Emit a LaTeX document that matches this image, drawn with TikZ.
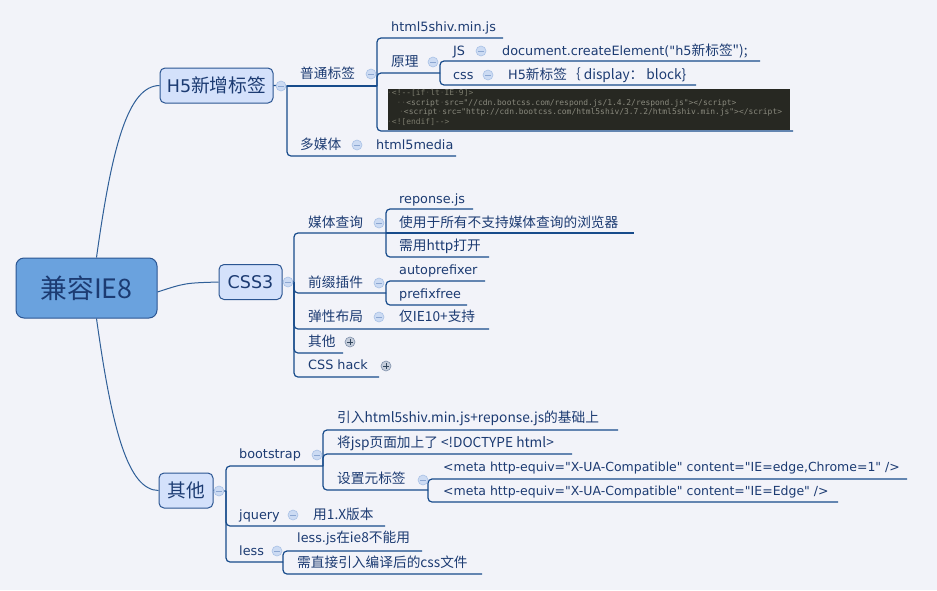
\documentclass[tikz,border=0pt]{standalone}
\usepackage{fontspec}
\setmainfont[Ligatures=TeXOff]{DejaVu Sans}
\newfontfamily\cjk[Scale=1.07,Ligatures=TeXOff]{Noto Sans CJK SC}
\newfontfamily\codefont[Ligatures=TeXOff]{DejaVu Sans Mono}
\definecolor{bg}{HTML}{F2F3F9}
\definecolor{txt}{HTML}{1C3B72}
\definecolor{lnc}{HTML}{174B8B}
\definecolor{rootc}{HTML}{2F5F98}
\definecolor{rootfill}{HTML}{6AA2DE}
\definecolor{boxfill}{HTML}{D4E1FB}
\definecolor{boxline}{HTML}{2B5592}
\definecolor{minfill}{HTML}{CCDBF3}
\definecolor{minline}{HTML}{A9C1E6}
\definecolor{minsign}{HTML}{8CA7D2}
\definecolor{plusfill}{HTML}{C5CDDB}
\definecolor{plusline}{HTML}{7F90AB}
\definecolor{plussign}{HTML}{33475F}
\definecolor{codebg}{HTML}{272822}
\definecolor{codea}{HTML}{7A7A6C}
\definecolor{codeb}{HTML}{8A8A7E}
\definecolor{codedot}{HTML}{4E4E44}
\newcommand\wsdot{{\color{codedot}·}}
\tikzset{
  lbl/.style={anchor=base west, inner sep=0pt, text=txt, font=\fontsize{12.8}{15}\selectfont},
  metalbl/.style={lbl, font=\fontsize{12.5}{15}\selectfont},
  ln/.style={draw=lnc, line width=1.2pt, rounded corners=4pt},
  rootln/.style={draw=rootc, line width=1pt},
  topicbox/.style={draw=boxline, fill=boxfill, line width=1pt, rounded corners=5pt, text=txt, inner sep=0pt, font=\fontsize{17.5}{20}\selectfont},
  mc/.style={circle, minimum size=10pt, inner sep=0pt, fill=minfill, draw=minline, line width=0.6pt,
    path picture={\draw[minsign, line width=1pt] ([xshift=-2.6pt]path picture bounding box.center) -- ([xshift=2.6pt]path picture bounding box.center);}},
  pc/.style={circle, minimum size=10pt, inner sep=0pt, fill=plusfill, draw=plusline, line width=0.6pt,
    path picture={\draw[plussign, line width=0.9pt] ([xshift=-2.6pt]path picture bounding box.center) -- ([xshift=2.6pt]path picture bounding box.center) ([yshift=-2.6pt]path picture bounding box.center) -- ([yshift=2.6pt]path picture bounding box.center);}},
  codeln/.style={anchor=base west, inner sep=0pt, font=\codefont\fontsize{7.95}{9}\selectfont}
}
\begin{document}
\begin{tikzpicture}[x=1pt,y=-1pt]
\fill[bg] (0,0) rectangle (937,590);
\useasboundingbox (0,0) rectangle (937,590);

% ---------- main topics ----------
\node[draw=boxline, fill=rootfill, line width=1pt, rounded corners=8pt, minimum width=141pt, minimum height=60pt, inner sep=0pt, text=txt, font=\fontsize{25}{28}\selectfont] (root) at (86.5,288) {\cjk{兼容}IE8};
\node[topicbox, minimum width=113pt, minimum height=35pt] (h5) at (216.5,85.5) {H5\cjk{新增标签}};
\node[topicbox, minimum width=63pt, minimum height=35pt] (css3) at (250.5,282) {CSS3};
\node[topicbox, minimum width=54pt, minimum height=35pt] (qt) at (186,490.5) {\cjk{其他}};

% root connectors
\draw[rootln] ([xshift=10pt]root.north) .. controls (112,146) and (128,86) .. (h5.west);
\draw[rootln] ([xshift=10pt]root.south) .. controls (112,430) and (128,490) .. (qt.west);
\draw[rootln] ([yshift=-4pt]root.east) .. controls (185,283) .. (css3.west);

% ---------- H5 branch ----------
\coordinate (jA) at (287,86);
\coordinate (jB) at (377,86);
\coordinate (eMM) at (456,156);
\coordinate (eH5s) at (503,38);
\coordinate (jC) at (440,73);
\coordinate (eCode) at (793,131);
\coordinate (eJS) at (760,61);
\coordinate (eCSS) at (696,85);
\draw[ln] (h5.east) -- (jA);
\draw[ln] (jA) -- (jB);
\draw[ln] (jA) |- (eMM);
\draw[ln] (jB) |- (eH5s);
\draw[ln] (jB) |- (jC);
\draw[ln] (jB) |- (eCode);
\draw[ln] (jC) |- (eJS);
\draw[ln] (jC) |- (eCSS);

\node[lbl] (tPT) at (300,78.5) {\cjk{普通标签}};
\node[lbl] (tMM) at (300,149.5) {\cjk{多媒体}};
\node[lbl] (tH5m) at (376,149.5) {html5media};
\node[lbl] (tH5s) at (391,31.5) {html5shiv.min.js};
\node[lbl] (tYL) at (391,66.5) {\cjk{原理}};
\node[lbl] (tJS) at (453,55.5) {JS};
\node[lbl] (tDoc) at (502,55.5) {document.createElement("h5\cjk{新标签}");};
\node[lbl] (tCss) at (453,79.5) {css};
\node[lbl] (tBlk) at (508,79.5) {H5\cjk{新标签｛} display\cjk{：} block\}};

\node[fill=codebg, minimum width=402pt, minimum height=41pt, inner sep=0pt, anchor=north west] (code) at (388,89) {};
\node[codeln, text=codea] (cl1) at (387,95) {\wsdot<!-{}-[if\wsdot lt\wsdot IE\wsdot 9]>};
\node[codeln, text=codeb] (cl2) at (396.5,105) {\wsdot\wsdot<script\wsdot src="//cdn.bootcss.com/respond.js/1.4.2/respond.js"></script>};
\node[codeln, text=codeb] (cl3) at (399,114.5) {\wsdot<script\wsdot src="http://cdn.bootcss.com/html5shiv/3.7.2/html5shiv.min.js"></script>};
\node[codeln, text=codea] (cl4) at (387,124) {\wsdot<![endif]-{}->};

\node[mc] (mH5) at (281,86) {};
\node[mc] (mPT) at (371,74) {};
\node[mc] (mYL) at (433,62) {};
\node[mc] (mJS) at (481,51) {};
\node[mc] (mCss) at (488,75) {};
\node[mc] (mMM) at (357,145) {};

% ---------- CSS3 branch ----------
\coordinate (jD) at (294,282);
\coordinate (jE) at (386,233);
\coordinate (jF) at (386,293);
\coordinate (eTX) at (489,329);
\coordinate (eQT) at (343,353);
\coordinate (eHack) at (379,377);
\coordinate (eRes) at (473,209);
\coordinate (eUse) at (634,233);
\coordinate (eHttp) at (489,257);
\coordinate (eAuto) at (485,281);
\coordinate (ePre) at (467,305);
\draw[ln] (css3.east) -- (jD);
\draw[ln] (jD) |- (jE);
\draw[ln] (jD) |- (jF);
\draw[ln] (jD) |- (eTX);
\draw[ln] (jD) |- (eQT);
\draw[ln] (jD) |- (eHack);
\draw[ln] (jE) |- (eRes);
\draw[ln] (jE) -- (eUse);
\draw[ln] (jE) |- (eHttp);
\draw[ln] (jF) |- (eAuto);
\draw[ln] (jF) |- (ePre);

\node[lbl] (tMQ) at (308,227.5) {\cjk{媒体查询}};
\node[lbl] (tRes) at (399,203.5) {reponse.js};
\node[lbl] (tUse) at (399,227.5) {\cjk{使用于所有不支持媒体查询的浏览器}};
\node[lbl] (tHttp) at (399,250.5) {\cjk{需用}http\cjk{打开}};
\node[lbl] (tQZ) at (308,287.5) {\cjk{前缀插件}};
\node[lbl] (tAuto) at (399,274.5) {autoprefixer};
\node[lbl] (tPre) at (399,298.5) {prefixfree};
\node[lbl] (tTX) at (308,321.5) {\cjk{弹性布局}};
\node[lbl] (tIE10) at (399,321.5) {\cjk{仅}IE10+\cjk{支持}};
\node[lbl] (tQT2) at (308,346.5) {\cjk{其他}};
\node[lbl] (tHack) at (308,369.5) {CSS hack};

\node[mc] (mCSS3) at (288,282) {};
\node[mc] (mMQ) at (379,223) {};
\node[mc] (mQZ) at (379,283) {};
\node[mc] (mTX) at (379,317) {};
\node[pc] (pQT) at (350,342) {};
\node[pc] (pHack) at (386,366) {};

% ---------- 其他 branch ----------
\coordinate (jG) at (226,491);
\coordinate (jH) at (323,466);
\coordinate (eJQ) at (385,526);
\coordinate (jI) at (283,562);
\coordinate (eYR) at (618,430);
\coordinate (eJSP) at (572,454);
\coordinate (jJ) at (428,490);
\coordinate (eM1) at (907,479);
\coordinate (eM2) at (838,502);
\coordinate (eLJ) at (422,551);
\coordinate (eZJ) at (482,574);
\draw[ln] (qt.east) -- (jG);
\draw[ln] (jG) |- (jH);
\draw[ln] (jG) |- (eJQ);
\draw[ln] (jG) |- (jI);
\draw[ln] (jH) |- (eYR);
\draw[ln] (jH) |- (eJSP);
\draw[ln] (jH) |- (jJ);
\draw[ln] (jJ) |- (eM1);
\draw[ln] (jJ) |- (eM2);
\draw[ln] (jI) |- (eLJ);
\draw[ln] (jI) |- (eZJ);

\node[lbl] (tBS) at (239,458.5) {bootstrap};
\node[lbl] (tYR) at (337,422.5) {\cjk{引入}html5shiv.min.js+reponse.js\cjk{的基础上}};
\node[lbl] (tJSP) at (337,447.5) {\cjk{将}jsp\cjk{页面加上了} <!DOCTYPE html>};
\node[lbl] (tSZ) at (337,483.5) {\cjk{设置元标签}};
\node[metalbl] (tM1) at (443,471.5) {<meta http-equiv="X-UA-Compatible" content="IE=edge,Chrome=1" />};
\node[metalbl] (tM2) at (443,495.5) {<meta http-equiv="X-UA-Compatible" content="IE=Edge" />};
\node[lbl] (tJQ) at (239,519.5) {jquery};
\node[lbl] (tV1) at (313,519.5) {\cjk{用}1.X\cjk{版本}};
\node[lbl] (tLess) at (239,555.5) {less};
\node[lbl] (tLJ) at (297,542.5) {less.js\cjk{在}ie8\cjk{不能用}};
\node[lbl] (tZJ) at (297,567.5) {\cjk{需直接引入编译后的}css\cjk{文件}};

\node[mc] (mQT) at (219,491) {};
\node[mc] (mBS) at (317,455) {};
\node[mc] (mSZ) at (423,480) {};
\node[mc] (mJQ) at (293,515) {};
\node[mc] (mLess) at (277,551) {};
\end{tikzpicture}
\end{document}
